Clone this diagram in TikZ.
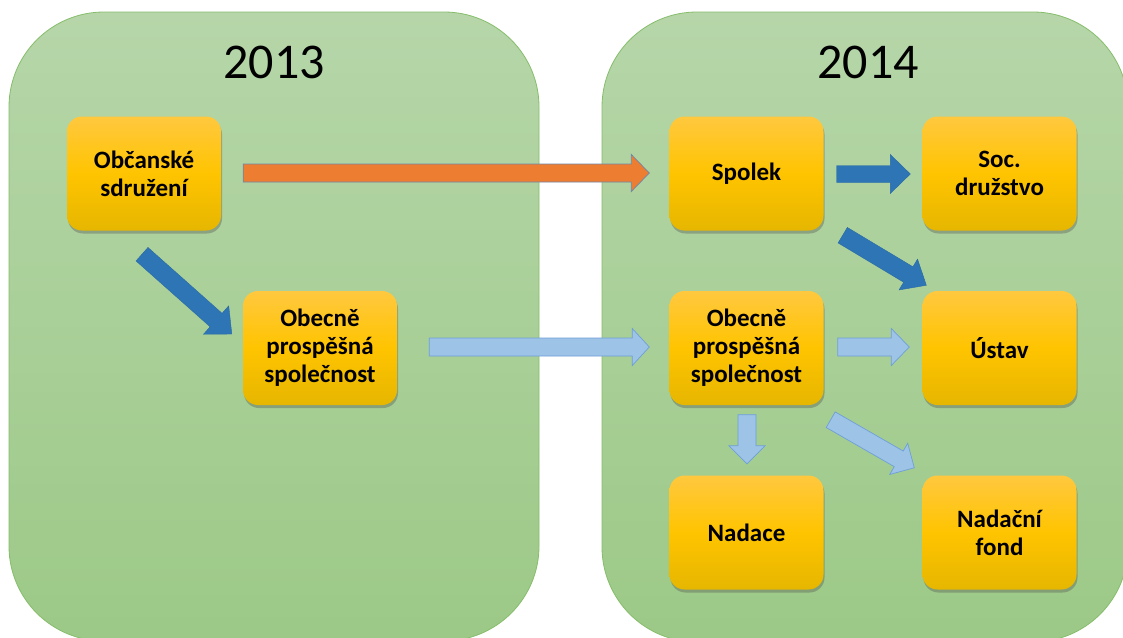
\documentclass[tikz,border=0pt]{standalone}
\usepackage{fontspec}
\setmainfont{Carlito}
\usetikzlibrary{calc,shadows}
\definecolor{pantop}{HTML}{B6D6A9}
\definecolor{panbot}{HTML}{9CC987}
\definecolor{panedge}{HTML}{86BD6B}
\definecolor{boxtop}{HTML}{FFC83F}
\definecolor{boxmid}{HTML}{FFC400}
\definecolor{boxbot}{HTML}{E6B600}
\definecolor{orangearr}{HTML}{ED7D31}
\definecolor{orangeedge}{HTML}{6F86A8}
\definecolor{darkblue}{HTML}{2E75B6}
\definecolor{lightblue}{HTML}{9DC3E6}
\definecolor{lightedge}{HTML}{6F9FD8}
\tikzset{
  panel/.style={draw=panedge, line width=0.8pt, top color=pantop, bottom color=panbot,
    rounded corners=95pt, inner sep=0pt},
  yeartext/.style={font=\fontsize{50}{60}\selectfont, text=black},
  orgbox/.style={rounded corners=15pt, minimum width=154pt, minimum height=114pt,
    top color=boxtop, bottom color=boxbot, middle color=boxmid,
    drop shadow={shadow xshift=1pt, shadow yshift=-3pt, fill=black!70, opacity=0.35},
    align=center, font=\fontsize{25}{28}\selectfont\bfseries, inner sep=2pt},
  orangeblock/.style={fill=orangearr, draw=orangeedge, line width=0.7pt},
  darkblock/.style={fill=darkblue, draw=darkblue!90!black, line width=0.4pt},
  lightblock/.style={fill=lightblue, draw=lightedge, line width=0.7pt},
}
% block arrow: #1 style, #2 start coord, #3 end coord, #4 shaft half width, #5 head half width, #6 head length
\newcommand{\blockarrow}[6]{%
  \path ($(#3)!#6!(#2)$) coordinate (hb);
  \draw[#1] ($(#2)!#4!90:(#3)$) -- ($(hb)!#4!90:(#3)$) -- ($(hb)!#5!90:(#3)$) -- (#3)
    -- ($(hb)!#5!-90:(#3)$) -- ($(hb)!#4!-90:(#3)$) -- ($(#2)!#4!-90:(#3)$) -- cycle;
}
\begin{document}
\begin{tikzpicture}[x=1pt,y=-1pt]
\clip (0,0) rectangle (1123,637);
\fill[white] (0,0) rectangle (1123,637);
% panels
\node[panel, minimum width=530pt, minimum height=629pt] (p13) at (274,326.5) {};
\node[panel, minimum width=526pt, minimum height=630pt] (p14) at (865,327) {};
\node[yeartext] (y13) at (274,62) {2013};
\node[yeartext] (y14) at (868,62) {2014};
% boxes
\node[orgbox] (os)  at (144,173.5)    {Občanské\\sdružení};
\node[orgbox] (opl) at (320,348)  {Obecně\\prospěšná\\společnost};
\node[orgbox] (sp)  at (746.5,173.5)  {Spolek};
\node[orgbox] (sd)  at (999.5,173.5)  {Soc.\\družstvo};
\node[orgbox] (opr) at (746.5,348){Obecně\\prospěšná\\společnost};
\node[orgbox] (us)  at (999.5,348){Ústav};
\node[orgbox] (na)  at (746.5,532.5)  {Nadace};
\node[orgbox] (nf)  at (999.5,532.5)  {Nadační\\fond};
% arrow end points
\coordinate (a1s) at ($(os.east)+(22,-0.5)$);
\coordinate (a1e) at ($(sp.west)+(-20,-0.5)$);
\coordinate (a2s) at ($(sp.east)+(13,0.5)$);
\coordinate (a2e) at ($(sd.west)+(-12,0.5)$);
\coordinate (a3s) at ($(sp.south east)+(19,4.5)$);
\coordinate (a3e) at ($(us.north west)+(4,-5.5)$);
\coordinate (a4s) at ($(os.south)+(-2,23.5)$);
\coordinate (a4e) at ($(opl.west)+(-11,-14)$);
\coordinate (a5s) at ($(opl.east)+(32,-1)$);
\coordinate (a5e) at ($(opr.west)+(-20,-1)$);
\coordinate (a6s) at ($(opr.east)+(14,-1)$);
\coordinate (a6e) at ($(us.west)+(-13,-1)$);
\coordinate (a7s) at ($(opr.south)+(0.5,9.5)$);
\coordinate (a7e) at ($(na.north)+(0.5,-11.5)$);
\coordinate (a8s) at ($(opr.south east)+(7,14.5)$);
\coordinate (a8e) at ($(nf.north west)+(-8,-7.5)$);
% arrows
\blockarrow{orangeblock}{a1s}{a1e}{9pt}{18.5pt}{18pt}
\blockarrow{darkblock}{a2s}{a2e}{8.5pt}{19.5pt}{20pt}
\blockarrow{darkblock}{a3s}{a3e}{9pt}{18pt}{21pt}
\blockarrow{darkblock}{a4s}{a4e}{9pt}{19pt}{21pt}
\blockarrow{lightblock}{a5s}{a5e}{9pt}{18.5pt}{17pt}
\blockarrow{lightblock}{a6s}{a6e}{9pt}{18.5pt}{18pt}
\blockarrow{lightblock}{a7s}{a7e}{9pt}{18pt}{18pt}
\blockarrow{lightblock}{a8s}{a8e}{9pt}{18pt}{18pt}
\end{tikzpicture}
\end{document}
